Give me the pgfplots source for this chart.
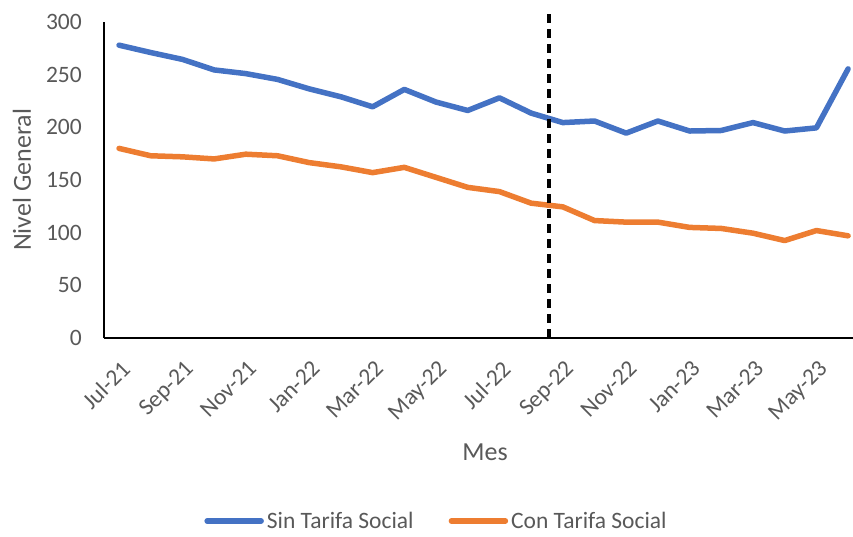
\documentclass[border=0pt]{standalone}
\usepackage{pgfplots}
\pgfplotsset{compat=1.18}
\usepackage{fontspec}
\setmainfont{Carlito}
\definecolor{serieA}{HTML}{4472C4}
\definecolor{serieB}{HTML}{ED7D31}
\definecolor{txtgray}{HTML}{595959}
\begin{document}
\begin{tikzpicture}
\path[use as bounding box] (-104pt,-199pt) rectangle (749pt,338pt);
\begin{axis}[
    at={(0pt,0pt)}, anchor=south west,
    scale only axis,
    width=749pt, height=316pt,
    xmin=-0.475, xmax=23.155,
    ymin=0, ymax=300,
    clip=false,
    axis x line=bottom, axis y line=left,
    axis line style={-, black, line width=1.3pt},
    major tick length=0pt,
    xtick={0,2,...,22},
    xticklabels={Jul-21,Sep-21,Nov-21,Jan-22,Mar-22,May-22,Jul-22,Sep-22,Nov-22,Jan-23,Mar-23,May-23},
    ytick={0,50,...,300},
    /pgf/number format/assume math mode=true,
    tick label style={font=\fontsize{23.5}{28}\selectfont, text=txtgray},
    yticklabel style={anchor=east, inner sep=0pt, xshift=-22pt},
    xticklabel style={anchor=north east, inner sep=0pt, xshift=1pt, yshift=-21pt, rotate=45},
    xlabel={Mes}, ylabel={Nivel General},
    every axis x label/.style={at={(axis description cs:0.5087,-0.3608)}, anchor=center,
        font=\fontsize{26}{30}\selectfont, text=txtgray},
    every axis y label/.style={at={(axis description cs:-0.1095,0.5)}, rotate=90, anchor=center,
        font=\fontsize{26}{30}\selectfont, text=txtgray},
    legend columns=2,
    legend style={at={(axis description cs:0.4433,-0.579)}, anchor=center, draw=none, fill=none,
        font=\fontsize{23.5}{28}\selectfont, text=txtgray,
        nodes={inner sep=1pt},
        /tikz/every odd column/.append style={column sep=2pt},
        /tikz/every even column/.append style={column sep=34pt}},
    legend image code/.code={\draw[#1, line cap=round] (0pt,0pt) -- (54pt,0pt);},
]
\addplot[serieA, line width=5.5pt, line cap=round, line join=round] coordinates {
    (0,278) (1,271) (2,264.5) (3,254.5) (4,251) (5,245.5) (6,236.5) (7,229)
    (8,219.5) (9,236) (10,224) (11,216) (12,228) (13,213.5) (14,204.5) (15,206)
    (16,194.5) (17,206) (18,196.5) (19,197) (20,204.5) (21,196.5) (22,199.5) (23,255.5)
};
\addlegendentry{Sin Tarifa Social}
\addplot[serieB, line width=5.5pt, line cap=round, line join=round] coordinates {
    (0,180) (1,173) (2,172) (3,170) (4,174.5) (5,173) (6,166.5) (7,162.5)
    (8,157) (9,162) (10,152.5) (11,143) (12,139) (13,128) (14,124.5) (15,111.5)
    (16,110) (17,110) (18,105) (19,104) (20,99.5) (21,92.5) (22,102) (23,97)
};
\addlegendentry{Con Tarifa Social}
\addplot[black, line width=4pt, dash pattern=on 9pt off 6pt, forget plot] coordinates {(13.55,0) (13.55,313)};
\end{axis}
\end{tikzpicture}
\end{document}
